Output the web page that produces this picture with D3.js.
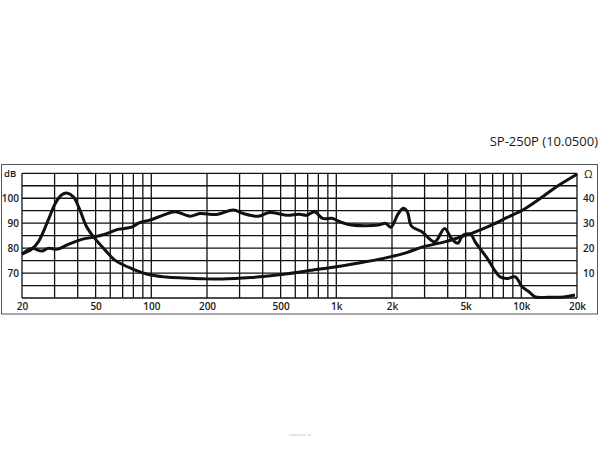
<!DOCTYPE html>
<html><head><meta charset="utf-8">
<script src="https://cdn.jsdelivr.net/npm/d3@7"></script>
<style>body{margin:0;background:#fff}svg{display:block}text{font-family:"Open Sans",sans-serif;fill:#1a1a1a}</style>
</head><body><svg id="c" width="600" height="450"></svg>
<script>
const title = "SP-250P (10.0500)";
const xTickVals = [20,50,100,200,500,1000,2000,5000,10000,20000];
const xTickLabels = ["20","50","100","200","500","1k","2k","5k","10k","20k"];
const xGrid = [20,30,40,50,60,70,80,90,100,200,300,400,500,600,700,800,900,1000,2000,3000,4000,5000,6000,7000,8000,9000,10000,20000];
const dbTicks = [70,80,90,100];
const ohmTicks = [10,20,30,40];

const splFreq = [20,22.6,25.6,27.7,31.2,35.6,42.1,49.5,56.3,66,78.3,86.5,98,116,134,162,183,225,278,314,378,436,537,631,690,764,843,958,1000,1162,1435,1694,1853,1974,2150,2300,2420,2550,2900,3400,3850,4190,4540,4830,5330,5640,6560,7160,7660,8360,9280,10100,11000,11900,14000,17000,19500];
const splDb = [77.6,79.9,78.8,79.9,79.6,81.5,83.5,84.5,85.6,87.5,88.4,90.2,91.2,93.2,94.6,92.8,93.9,93.5,95.3,93.9,92.8,94.3,93.2,93.6,93.2,94.6,91.9,91.9,91.2,89.5,89,89.3,89.9,88.4,93.5,96,94.6,88.8,86.6,82.5,87.9,83.9,82,85.2,85.5,82.4,75.8,71.2,68.5,67.8,68.5,64.5,62.5,60.4,60.3,60.4,61.2];

const impFreq = [20,22.5,24.5,27.7,30.3,32.7,34.9,37.9,41.1,44.7,49.5,56.3,63.5,78.3,98,120,150,190,240,345,518,780,1000,1435,1900,2400,2900,3850,4540,5470,6850,8400,10300,12700,15500,20000];
const impOhm = [17.6,19.5,22.5,31.2,38,41.3,42.1,40.6,35.3,28.6,23.9,19.2,15.2,11.8,9.3,8.4,8,7.7,7.6,8.2,9.5,11.4,12.5,14.5,16.3,18.2,20.4,22.5,24.1,26.1,29.1,32.3,35.5,40,44.6,49.6];

const svg = d3.select("#c");
const L=22, R=577, T=173.3, B=298;
const x = d3.scaleLog().domain([20,20000]).range([L,R]);
const yDb = d3.scaleLinear().domain([60,110]).range([B,T]);
const yOhm = d3.scaleLinear().domain([0,50]).range([B,T]);

svg.append("rect").attr("x",1.5).attr("y",164.5).attr("width",596).attr("height",149.5)
  .attr("fill","none").attr("stroke","#555").attr("stroke-width",1);

svg.append("text").attr("x",598).attr("y",146).attr("text-anchor","end")
  .attr("font-size",13).text(title);

const g = svg.append("g");
g.selectAll("line.v").data(xGrid).join("line")
  .attr("x1",d=>x(d)).attr("x2",d=>x(d)).attr("y1",T).attr("y2",B)
  .attr("stroke","#111").attr("stroke-width",1.3);
g.selectAll("line.h").data(d3.range(60,111,5)).join("line")
  .attr("x1",L).attr("x2",R).attr("y1",d=>yDb(d)).attr("y2",d=>yDb(d))
  .attr("stroke","#111").attr("stroke-width",1.3);

const xAxis = d3.axisBottom(x).tickValues(xTickVals).tickFormat((d,i)=>xTickLabels[i]).tickSize(0).tickPadding(5);
const ax = svg.append("g").attr("transform",`translate(0,${B})`).call(xAxis);
ax.select(".domain").remove();
ax.selectAll("text").attr("font-size",10).attr("font-family","Open Sans").attr("font-weight",600).attr("fill","#1a1a1a");

const yl = svg.append("g").attr("transform",`translate(${L},0)`).call(d3.axisLeft(yDb).tickValues(dbTicks).tickSize(0).tickPadding(3));
yl.select(".domain").remove();
yl.selectAll("text").attr("font-size",10).attr("font-family","Open Sans").attr("font-weight",600).attr("fill","#1a1a1a");
const yr = svg.append("g").attr("transform",`translate(${R},0)`).call(d3.axisRight(yOhm).tickValues(ohmTicks).tickSize(0).tickPadding(6));
yr.select(".domain").remove();
yr.selectAll("text").attr("font-size",10).attr("font-family","Open Sans").attr("font-weight",600).attr("fill","#1a1a1a");

svg.append("text").attr("x",4).attr("y",T+4).attr("font-size",9.5).attr("font-weight",600).text("dB");
svg.append("text").attr("x",584).attr("y",T+5).attr("font-size",11).text("Ω");

const lineDb = d3.line().x((d,i)=>x(splFreq[i])).y(d=>yDb(d)).curve(d3.curveCatmullRom.alpha(0.5));
const lineOhm = d3.line().x((d,i)=>x(impFreq[i])).y(d=>yOhm(d)).curve(d3.curveCatmullRom.alpha(0.5));
svg.append("path").attr("d",lineOhm(impOhm)).attr("fill","none").attr("stroke","#111").attr("stroke-width",3).attr("stroke-linejoin","round");
svg.append("path").attr("d",lineDb(splDb)).attr("fill","none").attr("stroke","#111").attr("stroke-width",3).attr("stroke-linejoin","round");

svg.append("text").attr("x",300).attr("y",436).attr("text-anchor","middle").attr("font-size",4).style("fill","#bbb").text("www.tme.pl");
</script></body></html>
